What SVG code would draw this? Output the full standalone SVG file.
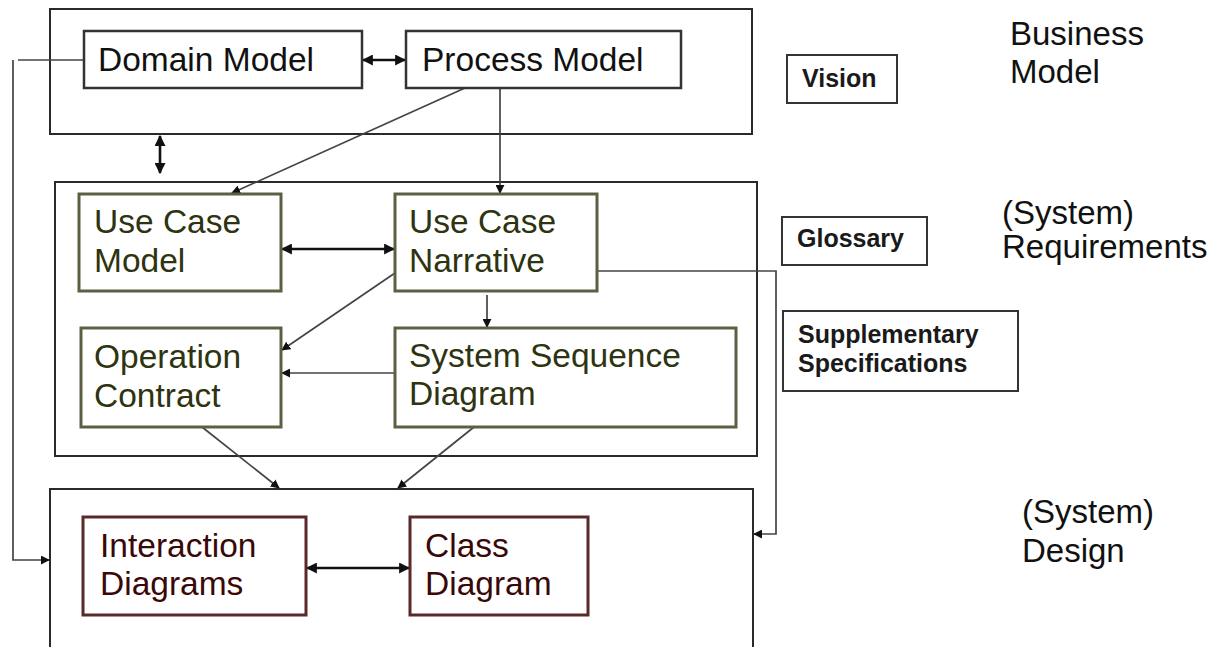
<svg xmlns="http://www.w3.org/2000/svg" width="1225" height="647" viewBox="0 0 1225 647">
  <style>
    .txt { font-family: "Liberation Sans", Arial, sans-serif; }
    .lbl { font-size: 33px; fill: #111; }
    .big { font-size: 33.5px; }
    .small { font-size: 25px; font-weight: bold; fill: #1a1a1a; }
    .frame { fill: none; stroke: #2a2a2a; stroke-width: 2; }
    .plain { fill: #fff; stroke: #333; stroke-width: 2.5; }
    .green { fill: #fff; stroke: #5c6043; stroke-width: 3; }
    .red { fill: #fff; stroke: #5a2a2a; stroke-width: 3; }
    .doc { fill: #fff; stroke: #333; stroke-width: 2; }
    .t-black { fill: #111; }
    .t-green { fill: #2e3310; }
    .t-red { fill: #3a0808; }
    .conn { fill: none; stroke: #444; stroke-width: 1.7; }
    .bold { fill: none; stroke: #111; stroke-width: 2.6; }
  </style>
  <defs>
    <marker id="ah" viewBox="0 0 10 10" refX="9" refY="5" markerWidth="9" markerHeight="9" markerUnits="userSpaceOnUse" orient="auto-start-reverse">
      <path d="M0,0 L10,5 L0,10 z" fill="#111"/>
    </marker>
    <marker id="ahb" viewBox="0 0 10 10" refX="9" refY="5" markerWidth="11" markerHeight="11" markerUnits="userSpaceOnUse" orient="auto-start-reverse">
      <path d="M0,0 L10,5 L0,10 z" fill="#111"/>
    </marker>
  </defs>

  <rect width="1225" height="647" fill="#fff"/>

  <!-- layer frames -->
  <g id="business-layer">
    <rect class="frame" x="50" y="9" width="702" height="125"/>
  </g>
  <g id="requirements-layer">
    <rect class="frame" x="55" y="182" width="702" height="274"/>
  </g>
  <g id="design-layer">
    <path class="frame" d="M50,647 V489 H753 V647"/>
  </g>

  <!-- connectors -->
  <g id="connectors">
    <!-- Domain Model <-> Process Model -->
    <line class="bold" x1="363" y1="60" x2="405" y2="60" marker-start="url(#ahb)" marker-end="url(#ahb)"/>
    <!-- Business <-> Requirements -->
    <line class="bold" x1="160" y1="136" x2="160" y2="173" marker-start="url(#ahb)" marker-end="url(#ahb)"/>
    <!-- Domain Model to design layer -->
    <path class="conn" d="M84,60 H18"/>
    <path class="conn" d="M13,60 V560 H49" marker-end="url(#ah)"/>
    <!-- Process Model to Use Case Model / Narrative -->
    <line class="conn" x1="465" y1="88" x2="232" y2="193" marker-end="url(#ah)"/>
    <line class="conn" x1="500" y1="88" x2="500" y2="193" marker-end="url(#ah)"/>
    <!-- Use Case Model <-> Narrative -->
    <line class="bold" x1="282" y1="249" x2="394" y2="249" marker-start="url(#ahb)" marker-end="url(#ahb)"/>
    <!-- Narrative to Operation Contract -->
    <line class="conn" x1="395" y1="273" x2="282" y2="350" marker-end="url(#ah)"/>
    <!-- Narrative to SSD -->
    <line class="conn" x1="487" y1="295" x2="487" y2="327" marker-end="url(#ah)"/>
    <!-- SSD to Operation Contract -->
    <line class="conn" x1="395" y1="373" x2="282" y2="373" marker-end="url(#ah)"/>
    <!-- Narrative to design layer -->
    <path class="conn" d="M597,271 H776 V534 H754" marker-end="url(#ah)"/>
    <!-- Operation Contract / SSD to design layer -->
    <line class="conn" x1="202" y1="427" x2="279" y2="488" marker-end="url(#ah)"/>
    <line class="conn" x1="474" y1="427" x2="398" y2="488" marker-end="url(#ah)"/>
    <!-- Interaction Diagrams <-> Class Diagram -->
    <line class="bold" x1="307" y1="568" x2="409" y2="568" marker-start="url(#ahb)" marker-end="url(#ahb)"/>
  </g>

  <!-- business model nodes -->
  <g id="domain-model">
    <rect class="plain" x="84" y="31" width="278" height="57"/>
    <text class="txt big t-black" x="98" y="71">Domain Model</text>
  </g>
  <g id="process-model">
    <rect class="plain" x="406" y="31" width="275" height="57"/>
    <text class="txt big t-black" x="422" y="71">Process Model</text>
  </g>

  <!-- requirements nodes -->
  <g id="use-case-model">
    <rect class="green" x="79" y="194" width="202" height="97"/>
    <text class="txt big t-green" x="94" y="233">Use Case</text>
    <text class="txt big t-green" x="94" y="272">Model</text>
  </g>
  <g id="use-case-narrative">
    <rect class="green" x="395" y="194" width="202" height="97"/>
    <text class="txt big t-green" x="409" y="233">Use Case</text>
    <text class="txt big t-green" x="409" y="272">Narrative</text>
  </g>
  <g id="operation-contract">
    <rect class="green" x="81" y="328" width="200" height="99"/>
    <text class="txt big t-green" x="94" y="368">Operation</text>
    <text class="txt big t-green" x="94" y="407">Contract</text>
  </g>
  <g id="system-sequence-diagram">
    <rect class="green" x="395" y="328" width="341" height="99"/>
    <text class="txt big t-green" x="409" y="367">System Sequence</text>
    <text class="txt big t-green" x="409" y="405">Diagram</text>
  </g>

  <!-- design nodes -->
  <g id="interaction-diagrams">
    <rect class="red" x="83" y="517" width="223" height="98"/>
    <text class="txt big t-red" x="100" y="557">Interaction</text>
    <text class="txt big t-red" x="100" y="595">Diagrams</text>
  </g>
  <g id="class-diagram">
    <rect class="red" x="410" y="517" width="178" height="98"/>
    <text class="txt big t-red" x="425" y="557">Class</text>
    <text class="txt big t-red" x="425" y="595">Diagram</text>
  </g>

  <!-- side documents -->
  <g id="vision">
    <rect class="doc" x="787" y="55" width="110" height="48"/>
    <text class="txt small" x="802" y="87">Vision</text>
  </g>
  <g id="glossary">
    <rect class="doc" x="782" y="217" width="145" height="48"/>
    <text class="txt small" x="797" y="247">Glossary</text>
  </g>
  <g id="supplementary-specifications">
    <rect class="doc" x="783" y="311" width="235" height="80"/>
    <text class="txt small" x="798" y="343">Supplementary</text>
    <text class="txt small" x="798" y="372">Specifications</text>
  </g>

  <!-- layer titles -->
  <g id="layer-titles">
    <text class="txt lbl" x="1010" y="45">Business</text>
    <text class="txt lbl" x="1010" y="83">Model</text>
    <text class="txt lbl" x="1002" y="224">(System)</text>
    <text class="txt lbl" x="1002" y="258">Requirements</text>
    <text class="txt lbl" x="1022" y="523">(System)</text>
    <text class="txt lbl" x="1022" y="562">Design</text>
  </g>
</svg>
